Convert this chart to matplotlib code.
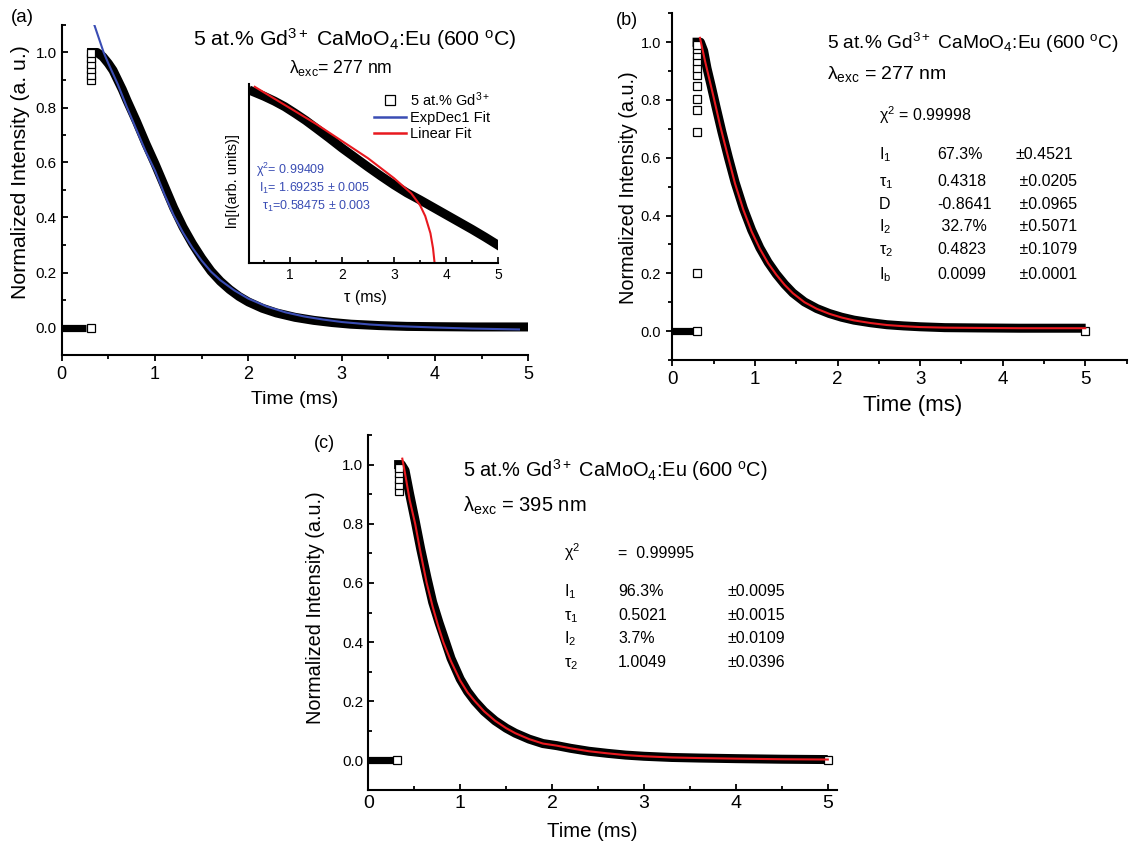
import matplotlib
matplotlib.use('Agg')
import matplotlib.pyplot as plt
from matplotlib.lines import Line2D
from matplotlib.ticker import MultipleLocator, FormatStrFormatter

plt.rcParams['font.family'] = ['Liberation Sans', 'DejaVu Sans']
plt.rcParams['mathtext.fontset'] = 'custom'
plt.rcParams['mathtext.rm'] = 'Liberation Sans'
plt.rcParams['mathtext.it'] = 'Liberation Sans:italic'
plt.rcParams['mathtext.default'] = 'regular'
plt.rcParams['axes.linewidth'] = 1.5

W, H = 1129, 841
BLUE = '#3a4db4'
RED = '#e8191f'

# ---- (a) 277 nm: decay and ExpDec1 fit ----
t_a = [0.32, 0.38, 0.44, 0.50, 0.55, 0.60, 0.65, 0.70, 0.80, 0.90, 1.00, 1.10, 1.20, 1.30,
       1.40, 1.50, 1.60, 1.70, 1.80, 1.90, 2.00, 2.15, 2.30, 2.50, 2.70, 2.90, 3.10, 3.40,
       3.70, 4.00, 4.40, 4.95]
I_a = [1.00, 1.00, 0.985, 0.96, 0.935, 0.90, 0.865, 0.825, 0.75, 0.67, 0.595, 0.515, 0.435,
       0.365, 0.305, 0.252, 0.205, 0.168, 0.138, 0.113, 0.093, 0.070, 0.053, 0.037, 0.026,
       0.018, 0.012, 0.007, 0.004, 0.003, 0.002, 0.002]
t_a_fit = [0.35, 0.40, 0.45, 0.50, 0.60, 0.70, 0.80, 0.90, 1.00, 1.10, 1.20, 1.30, 1.40, 1.50,
           1.60, 1.70, 1.85, 2.00, 2.20, 2.40, 2.60, 2.80, 3.00, 3.30, 3.60, 4.00, 4.40, 4.90]
I_a_fit = [1.10, 1.05, 1.00, 0.96, 0.885, 0.80, 0.72, 0.64, 0.57, 0.485, 0.408, 0.345, 0.29,
           0.243, 0.203, 0.172, 0.135, 0.105, 0.076, 0.055, 0.040, 0.029, 0.020, 0.011, 0.005,
           0.000, -0.004, -0.007]
t_a_open = [0.31, 0.31, 0.31, 0.31, 0.31, 0.31, 0.31]
I_a_open = [0.0, 0.90, 0.92, 0.94, 0.96, 0.98, 1.0]
t_a_base = [0.0, 0.26]

# inset: ln of the decay and its linear fit
t_ln = [0.29, 0.50, 0.70, 0.90, 1.10, 1.30, 1.50, 1.75, 2.00, 2.25, 2.50, 2.75, 3.00, 3.25,
        3.50, 3.75, 4.00, 4.25, 4.50, 4.75, 5.00]
ln_I = [0.0, -0.13, -0.27, -0.43, -0.62, -0.82, -1.04, -1.32, -1.61, -1.88, -2.15, -2.41,
        -2.66, -2.89, -3.09, -3.30, -3.51, -3.72, -3.93, -4.15, -4.38]
t_ln_fit = [0.32, 1.00, 1.50, 2.00, 2.50, 3.00, 3.33, 3.50, 3.60, 3.70, 3.75, 3.78, 3.79]
ln_fit = [0.14, -0.47, -0.92, -1.41, -1.90, -2.47, -2.90, -3.24, -3.55, -4.04, -4.47, -4.89, -6.0]

# ---- (b) 277 nm: decay and two-exponential fit ----
t_b = [0.30, 0.34, 0.38, 0.42, 0.47, 0.53, 0.60, 0.68, 0.76, 0.86, 0.96, 1.06, 1.16, 1.26,
       1.36, 1.46, 1.60, 1.75, 1.90, 2.05, 2.20, 2.40, 2.60, 2.80, 3.00, 3.30, 3.70, 4.20, 4.95]
I_b = [1.00, 1.00, 0.97, 0.91, 0.85, 0.775, 0.69, 0.60, 0.515, 0.425, 0.35, 0.288, 0.238,
       0.197, 0.162, 0.132, 0.101, 0.078, 0.061, 0.048, 0.038, 0.029, 0.022, 0.018, 0.015,
       0.012, 0.011, 0.010, 0.010]
t_b_fit = [0.335, 0.40, 0.45, 0.50, 0.58, 0.66, 0.76, 0.86, 0.96, 1.06, 1.16, 1.26, 1.36,
           1.46, 1.60, 1.75, 1.90, 2.05, 2.20, 2.40, 2.60, 2.80, 3.00, 3.30, 3.70, 4.20, 5.00]
I_b_fit = [1.015, 0.93, 0.87, 0.81, 0.71, 0.62, 0.51, 0.42, 0.345, 0.285, 0.235, 0.195, 0.16,
           0.131, 0.10, 0.077, 0.060, 0.047, 0.037, 0.028, 0.021, 0.017, 0.014, 0.012, 0.011,
           0.010, 0.010]
t_b_open = [0.30, 0.30, 0.30, 0.30, 0.30, 0.30, 0.30, 0.30, 0.30, 0.30, 0.30, 0.30, 5.0]
I_b_open = [0.0, 0.20, 0.69, 0.765, 0.805, 0.85, 0.885, 0.91, 0.935, 0.955, 0.975, 0.99, 0.0]
t_b_base = [0.0, 0.25]

# ---- (c) 395 nm: decay and two-exponential fit ----
t_c = [0.33, 0.36, 0.40, 0.45, 0.51, 0.57, 0.64, 0.70, 0.77, 0.83, 0.90, 1.00, 1.08, 1.16,
       1.26, 1.38, 1.50, 1.60, 1.75, 1.90, 2.05, 2.20, 2.40, 2.60, 2.80, 3.00, 3.30, 3.60,
       4.00, 4.50, 4.95]
I_c = [1.00, 1.00, 0.98, 0.90, 0.81, 0.715, 0.615, 0.535, 0.465, 0.41, 0.345, 0.275, 0.233,
       0.20, 0.166, 0.134, 0.109, 0.092, 0.072, 0.057, 0.050, 0.041, 0.031, 0.024, 0.018,
       0.014, 0.010, 0.008, 0.006, 0.004, 0.003]
t_c_fit = [0.37, 0.40, 0.45, 0.51, 0.57, 0.635, 0.70, 0.76, 0.816, 0.90, 1.00, 1.08, 1.16,
           1.26, 1.38, 1.50, 1.60, 1.75, 1.90, 2.05, 2.20, 2.40, 2.60, 2.80, 3.00, 3.30, 3.60,
           4.00, 4.50, 5.00]
I_c_fit = [1.02, 0.97, 0.88, 0.80, 0.70, 0.60, 0.52, 0.455, 0.40, 0.335, 0.27, 0.23, 0.20,
           0.166, 0.134, 0.109, 0.092, 0.072, 0.057, 0.050, 0.041, 0.031, 0.024, 0.018, 0.014,
           0.010, 0.008, 0.006, 0.004, 0.003]
t_c_open = [0.31, 0.33, 0.33, 0.33, 0.33, 0.33, 5.0]
I_c_open = [0.0, 0.91, 0.93, 0.95, 0.97, 0.99, 0.0]
t_c_base = [0.0, 0.27]

# fit parameter tables
rows_b = ['I$_1$', 'τ$_1$', 'D', 'I$_2$', 'τ$_2$', 'I$_b$']
vals_b = ['67.3%', '0.4318', '-0.8641', ' 32.7%', '0.4823', '0.0099']
errs_b = ['±0.4521', ' ±0.0205', ' ±0.0965', ' ±0.5071', ' ±0.1079', ' ±0.0001']
rows_c = ['I$_1$', 'τ$_1$', 'I$_2$', 'τ$_2$']
vals_c = ['96.3%', '0.5021', '3.7%', '1.0049']
errs_c = ['±0.0095', '±0.0015', '±0.0109', '±0.0396']

title = '5 at.% Gd$^{3+}$ CaMoO$_4$:Eu (600 $^{o}$C)'


def px(x, y):
    # canvas pixels (from top-left) -> figure fraction
    return x / W, 1 - y / H


def rect(left, top, right, bottom):
    return [left / W, 1 - bottom / H, (right - left) / W, (bottom - top) / H]


def decay_axes(ax, xmax, xsize, ysize, xdir, ydir):
    ax.set_xlim(0, xmax)
    ax.set_ylim(-0.1, 1.1)
    ax.spines['top'].set_visible(False)
    ax.spines['right'].set_visible(False)
    ax.xaxis.set_major_locator(MultipleLocator(1))
    ax.xaxis.set_minor_locator(MultipleLocator(0.5))
    ax.yaxis.set_major_locator(MultipleLocator(0.2))
    ax.yaxis.set_minor_locator(MultipleLocator(0.1))
    ax.yaxis.set_major_formatter(FormatStrFormatter('%.1f'))
    ax.tick_params(axis='x', which='both', direction=xdir, width=1.3, labelsize=xsize)
    ax.tick_params(axis='y', which='both', direction=ydir, width=1.3, labelsize=ysize)
    ax.tick_params(which='major', length=4.5)
    ax.tick_params(which='minor', length=3)


def draw_decay(ax, t, I, t_open, I_open, t_base):
    # dense open squares merge into one thick black band
    ax.plot(t_base, [0, 0], color='black', lw=5.2, solid_capstyle='butt')
    ax.plot(t, I, color='black', lw=6.5, solid_capstyle='projecting', solid_joinstyle='round')
    ax.plot(t_open, I_open, 's', ms=6, mfc='white', mec='black', mew=0.9, zorder=4)


fig = plt.figure(figsize=(W / 100, H / 100), dpi=100)

# ---------- (a) ----------
ax_a = fig.add_axes(rect(61.7, 25, 528.3, 355))
decay_axes(ax_a, 5, 13, 11, 'out', 'in')
draw_decay(ax_a, t_a, I_a, t_a_open, I_a_open, t_a_base)
ax_a.plot(t_a_fit, I_a_fit, color=BLUE, lw=1.5, zorder=5)
ax_a.set_xlabel('Time (ms)', fontsize=14)
ax_a.xaxis.set_label_coords(0.5, -0.11)
ax_a.set_ylabel('Normalized Intensity (a. u.)', fontsize=15.3)
ax_a.yaxis.set_label_coords(-0.068, 0.555)
fig.text(*px(11, 17), '(a)', fontsize=13.5, va='center')
fig.text(*px(193, 46), title, fontsize=15.3, va='baseline')
fig.text(*px(289, 73), '$λ_{exc}$= 277 nm', fontsize=12.7, va='baseline')

# inset: ln plot
ax_in = fig.add_axes(rect(248.5, 84, 498, 263))
ax_in.set_xlim(0.2, 5)
ax_in.set_ylim(-4.89, 0.22)
ax_in.spines['top'].set_visible(False)
ax_in.spines['right'].set_visible(False)
ax_in.xaxis.set_major_locator(MultipleLocator(1))
ax_in.xaxis.set_minor_locator(MultipleLocator(0.5))
ax_in.set_yticks([])
ax_in.tick_params(axis='x', which='both', direction='in', width=1.2, labelsize=10)
ax_in.tick_params(which='major', length=4)
ax_in.tick_params(which='minor', length=2.5)
ax_in.plot(t_ln, ln_I, color='black', lw=6.5, solid_capstyle='projecting')
ax_in.plot(t_ln_fit, ln_fit, color=RED, lw=1.5)
ax_in.set_xlabel('τ (ms)', fontsize=11.5)
ax_in.xaxis.set_label_coords(0.467, -0.15)
ax_in.set_ylabel('ln[I(arb. units)]', fontsize=10.5)
ax_in.yaxis.set_label_coords(-0.035, 0.46)
handles = [Line2D([], [], ls='none', marker='s', ms=7, mfc='white', mec='black', mew=0.9),
           Line2D([], [], color=BLUE, lw=1.8),
           Line2D([], [], color=RED, lw=1.8)]
ax_in.legend(handles, ['5 at.% Gd$^{3+}$', 'ExpDec1 Fit', 'Linear Fit'],
             loc='upper left', bbox_to_anchor=px(374, 90), bbox_transform=fig.transFigure,
             frameon=False, fontsize=10.5, handlelength=2.2, handletextpad=0.3,
             labelspacing=0.15, borderpad=0, borderaxespad=0)
fig.text(*px(256, 174), 'χ$^2$= 0.99409', fontsize=9, color=BLUE, va='baseline')
fig.text(*px(259, 192), 'I$_1$= 1.69235 ± 0.005', fontsize=9, color=BLUE, va='baseline')
fig.text(*px(262, 210), 'τ$_1$=0.58475 ± 0.003', fontsize=9, color=BLUE, va='baseline')

# ---------- (b) ----------
ax_b = fig.add_axes(rect(672.3, 13.3, 1126.6, 360))
decay_axes(ax_b, 5.5, 13.5, 10.5, 'out', 'out')
draw_decay(ax_b, t_b, I_b, t_b_open, I_b_open, t_b_base)
ax_b.plot(t_b_fit, I_b_fit, color=RED, lw=1.5, zorder=5)
ax_b.set_xlabel('Time (ms)', fontsize=16)
ax_b.xaxis.set_label_coords(0.528, -0.10)
ax_b.set_ylabel('Normalized Intensity (a.u.)', fontsize=14.3)
ax_b.yaxis.set_label_coords(-0.0755, 0.498)
fig.text(*px(616, 20.5), '(b)', fontsize=13, va='center')
fig.text(*px(827, 49), title, fontsize=13.8, va='baseline')
fig.text(*px(827, 79), '$λ_{exc}$ = 277 nm', fontsize=14, va='baseline')
fig.text(*px(879, 120.5), 'χ$^2$ = 0.99998', fontsize=11.5, va='baseline')
row_y_b = [159, 186, 209, 231, 254, 279]
for lab, val, err, y in zip(rows_b, vals_b, errs_b, row_y_b):
    fig.text(*px(879, y), lab, fontsize=11.5, va='baseline')
    fig.text(*px(937, y), val, fontsize=11.5, va='baseline')
    fig.text(*px(1015, y), err, fontsize=11.5, va='baseline')

# ---------- (c) ----------
ax_c = fig.add_axes(rect(368.3, 435, 837, 790))
decay_axes(ax_c, 5.1, 14, 11, 'in', 'in')
draw_decay(ax_c, t_c, I_c, t_c_open, I_c_open, t_c_base)
ax_c.plot(t_c_fit, I_c_fit, color=RED, lw=1.5, zorder=5)
ax_c.set_xlabel('Time (ms)', fontsize=14.6)
ax_c.xaxis.set_label_coords(0.477, -0.089)
ax_c.set_ylabel('Normalized Intensity (a.u.)', fontsize=14.3)
ax_c.yaxis.set_label_coords(-0.092, 0.514)
fig.text(*px(314, 444), '(c)', fontsize=13, va='center')
fig.text(*px(463, 477), title, fontsize=14.4, va='baseline')
fig.text(*px(463, 511.5), '$λ_{exc}$ = 395 nm', fontsize=14.5, va='baseline')
fig.text(*px(564, 558), 'χ$^2$', fontsize=11.5, va='baseline')
fig.text(*px(618, 558), '=  0.99995', fontsize=11.5, va='baseline')
row_y_c = [596, 620, 643, 667]
for lab, val, err, y in zip(rows_c, vals_c, errs_c, row_y_c):
    fig.text(*px(564, y), lab, fontsize=11.5, va='baseline')
    fig.text(*px(618, y), val, fontsize=11.5, va='baseline')
    fig.text(*px(727, y), err, fontsize=11.5, va='baseline')

fig.savefig('out.png', dpi=100)
